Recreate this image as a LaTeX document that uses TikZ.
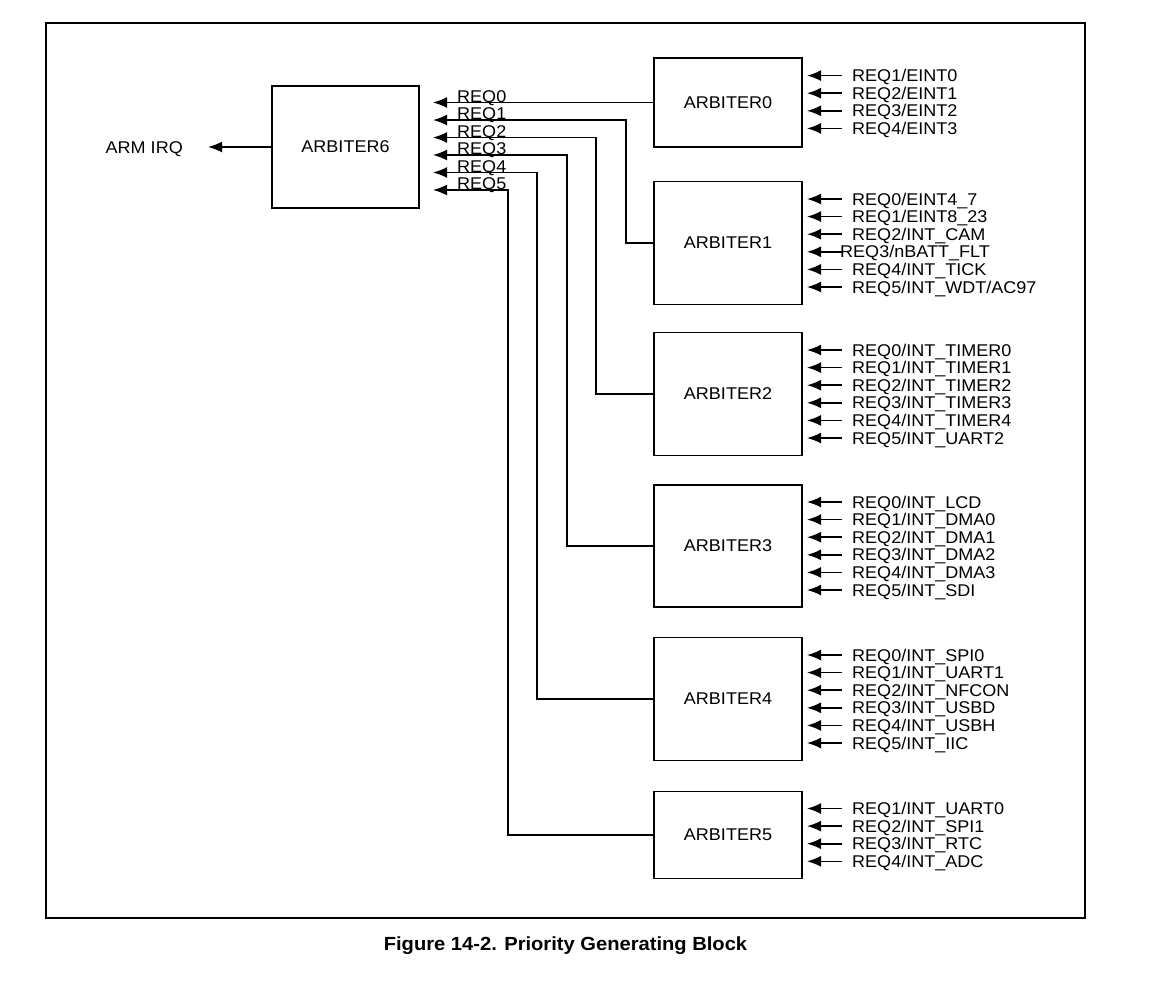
\documentclass[tikz,border=0pt]{standalone}
\usepackage{fontspec}
\setmainfont{Liberation Sans}[FakeStretch=1.06]
\usetikzlibrary{arrows.meta}
\begin{document}
\begin{tikzpicture}[x=1pt,y=-1pt,
  arbbox/.style={draw,line width=1.5pt,minimum width=148pt,inner sep=0pt,font=\fontsize{17}{17}\selectfont},
  arr/.style={line width=1.6pt,-{Latex[length=14pt,width=11pt]}},
  inlbl/.style={anchor=west,inner sep=0pt,text height=12pt,text depth=0pt,font=\fontsize{17}{17}\selectfont},
  reqlbl/.style={anchor=south west,inner sep=0pt,text depth=0pt,font=\fontsize{17}{17}\selectfont}]
\useasboundingbox (0,0) rectangle (1158,989);
\draw[line width=2pt] (46,23) rectangle (1085,918);
% main arbiter
\node[arbbox,minimum width=147pt,minimum height=122pt] (a6) at (345.5,147) {ARBITER6};
\node[inlbl,anchor=east] (irq) at (183,147) {ARM IRQ};
\draw[arr] (a6.west) -- (208,147);
% sub arbiters
\node[arbbox,minimum height=89pt] (a0) at (728,102.5) {ARBITER0};
\node[arbbox,minimum height=123pt] (a1) at (728,243) {ARBITER1};
\node[arbbox,minimum height=123pt] (a2) at (728,394) {ARBITER2};
\node[arbbox,minimum height=122pt] (a3) at (728,546) {ARBITER3};
\node[arbbox,minimum height=123pt] (a4) at (728,699) {ARBITER4};
\node[arbbox,minimum height=87pt] (a5) at (728,835) {ARBITER5};
% request lines to ARBITER6
\foreach \i/\yy in {0/102.5,1/120,2/137.5,3/155,4/172.5,5/190}{
  \coordinate (r\i) at (433,\yy);
  \node[reqlbl] (q\i) at (457,\yy-0.3) {REQ\i};
}
\draw[arr] (a0.west) -- (r0);
\draw[arr] (a1.west) -| (626,120) -- (r1);
\draw[arr] (a2.west) -| (596,137.5) -- (r2);
\draw[arr] (a3.west) -| (567,155) -- (r3);
\draw[arr] (a4.west) -| (537,172.5) -- (r4);
\draw[arr] (a5.west) -| (508,190) -- (r5);
% input lists
\newcommand{\inputs}[3]{%
  \foreach \t [count=\k from 0] in {#3}{
    \pgfmathsetmacro{\yy}{#1+\k*17.6}
    \coordinate (s#2\k) at (842,\yy);
    \coordinate (e#2\k) at (807,\yy);
    \draw[arr] (s#2\k) -- (e#2\k);
    \node[inlbl] (l#2\k) at (852,\yy) {\t};
  }}
\inputs{75.6}{a}{REQ1/EINT0,REQ2/EINT1,REQ3/EINT2,REQ4/EINT3}
\inputs{199}{b}{REQ0/EINT4\_7,REQ1/EINT8\_23,REQ2/INT\_CAM,\hspace{-12pt}REQ3/nBATT\_FLT,REQ4/INT\_TICK,REQ5/INT\_WDT/AC97}
\inputs{350}{c}{REQ0/INT\_TIMER0,REQ1/INT\_TIMER1,REQ2/INT\_TIMER2,REQ3/INT\_TIMER3,REQ4/INT\_TIMER4,REQ5/INT\_UART2}
\inputs{502}{d}{REQ0/INT\_LCD,REQ1/INT\_DMA0,REQ2/INT\_DMA1,REQ3/INT\_DMA2,REQ4/INT\_DMA3,REQ5/INT\_SDI}
\inputs{655}{e}{REQ0/INT\_SPI0,REQ1/INT\_UART1,REQ2/INT\_NFCON,REQ3/INT\_USBD,REQ4/INT\_USBH,REQ5/INT\_IIC}
\inputs{808.5}{f}{REQ1/INT\_UART0,REQ2/INT\_SPI1,REQ3/INT\_RTC,REQ4/INT\_ADC}
% caption
\node[inner sep=0pt,font=\fontsize{19}{19}\selectfont\bfseries] (cap) at (565.5,946) {Figure 14-2. Priority Generating Block};
\end{tikzpicture}
\end{document}
